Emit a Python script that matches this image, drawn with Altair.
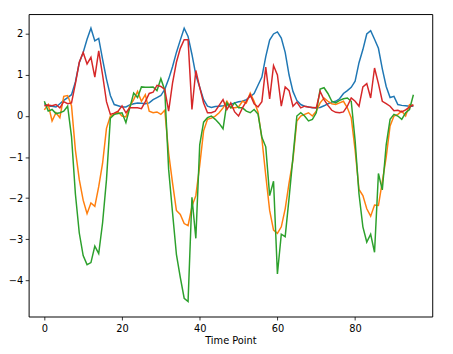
import altair as alt
import pandas as pd

time_points = list(range(96))

blue = [0.30, 0.24, 0.24, 0.22, 0.30, 0.38, 0.45, 0.52, 0.83, 1.30,
        1.55, 1.87, 2.14, 1.83, 1.89, 1.38, 0.90, 0.50, 0.28, 0.25,
        0.22, 0.22, 0.27, 0.30, 0.32, 0.31, 0.30, 0.32, 0.40, 0.45,
        0.50, 0.65, 0.90, 1.20, 1.55, 1.85, 2.14, 1.94, 1.50, 1.00,
        0.70, 0.40, 0.24, 0.21, 0.23, 0.24, 0.25, 0.27, 0.28, 0.32,
        0.35, 0.36, 0.40, 0.47, 0.55, 0.75, 0.95, 1.45, 1.85, 2.00,
        2.05, 1.90, 1.55, 1.00, 0.60, 0.38, 0.28, 0.24, 0.22, 0.20,
        0.20, 0.21, 0.25, 0.30, 0.34, 0.36, 0.42, 0.55, 0.62, 0.70,
        0.85, 1.30, 1.62, 2.00, 2.08, 1.87, 1.65, 1.15, 0.72, 0.45,
        0.48, 0.28, 0.26, 0.25, 0.24, 0.24]

orange = [0.15, 0.28, -0.12, 0.08, -0.04, 0.48, 0.50, 0.25, -0.83, -1.55,
          -2.05, -2.38, -2.12, -2.20, -1.72, -1.15, -0.30, 0.00, 0.04, 0.10,
          0.00, -0.02, 0.24, 0.40, 0.60, 0.36, 0.52, 0.12, 0.08, 0.10,
          0.04, 0.14, -0.90, -1.63, -2.30, -2.40, -2.62, -2.67, -2.20, -1.94,
          -1.20, -0.36, -0.08, -0.05, 0.00, 0.08, 0.20, 0.36, 0.20, 0.20,
          0.22, 0.36, 0.32, 0.56, 0.36, 0.10, -0.55, -1.45, -2.30, -2.78,
          -2.86, -2.70, -2.26, -1.63, -1.07, -0.12, 0.00, 0.04, 0.08, 0.00,
          0.12, 0.32, 0.44, 0.36, 0.30, 0.28, 0.32, 0.36, 0.20, -0.04,
          -0.83, -1.79, -1.94, -2.26, -2.44, -2.17, -2.18, -1.60, -1.00, -0.24,
          0.00, 0.04, 0.12, 0.00, 0.28, 0.25]

green = [0.36, 0.12, 0.16, 0.06, 0.08, 0.12, 0.24, -0.50, -1.90, -2.85,
         -3.40, -3.62, -3.57, -3.17, -3.35, -2.60, -1.55, -0.05, 0.04, 0.06,
         0.08, -0.16, 0.20, 0.56, 0.45, 0.71, 0.70, 0.70, 0.71, 0.62,
         0.91, 0.63, -1.30, -2.35, -3.37, -3.93, -4.44, -4.52, -1.98, -2.98,
         -0.70, -0.15, -0.04, 0.00, -0.08, -0.18, -0.31, 0.32, 0.20, 0.32,
         0.20, 0.20, 0.12, 0.08, 0.16, 0.05, -0.52, -0.75, -1.94, -1.59,
         -3.85, -2.88, -2.94, -2.00, -1.00, 0.00, 0.08, 0.00, -0.12, -0.08,
         0.08, 0.66, 0.69, 0.55, 0.36, 0.32, 0.38, 0.42, 0.44, 0.36,
         -0.60, -1.90, -2.70, -3.07, -2.88, -3.32, -1.40, -1.80, -0.70, -0.08,
         0.04, 0.00, -0.08, 0.08, 0.16, 0.52]

red = [0.25, 0.27, 0.25, 0.28, 0.20, 0.35, 0.30, 0.32, 0.79, 1.31,
       1.55, 1.27, 1.43, 0.95, 1.59, 1.00, 0.35, 0.04, 0.07, 0.12,
       0.25, 0.08, 0.20, 0.20, 0.20, 0.18, 0.35, 0.55, 0.58, 0.75,
       0.72, 0.65, 0.12, 0.80, 1.31, 1.65, 1.86, 1.86, 0.16, 1.11,
       0.70, 0.32, 0.08, 0.08, 0.12, 0.26, 0.40, 0.16, 0.32, 0.10,
       0.00, 0.20, 0.36, 0.52, 0.30, 0.22, 0.35, 1.19, 0.42, 1.23,
       1.00, 0.24, 0.71, 0.62, 0.24, 0.34, 0.20, 0.24, 0.22, 0.21,
       0.20, 0.60, 0.40, 0.26, 0.14, 0.09, 0.08, 0.10, 0.24, 0.44,
       0.36, 0.24, 0.71, 0.79, 0.44, 1.17, 0.79, 0.36, 0.30, 0.24,
       0.13, 0.14, 0.10, 0.15, 0.22, 0.28]

series = [("s0", blue, "#1f77b4"), ("s1", orange, "#ff7f0e"),
          ("s2", green, "#2ca02c"), ("s3", red, "#d62728")]

x_ticks = [0, 20, 40, 60, 80]
y_ticks = [-4, -3, -2, -1, 0, 1, 2]

xscale = alt.Scale(domain=[-4.04, 99.85], nice=False, zero=False)
yscale = alt.Scale(domain=[-4.885, 2.485], nice=False, zero=False)

minus = "replace(datum.label, '-', '\u2212')"
xaxis = alt.Axis(values=x_ticks, title="Time Point", grid=False, labelExpr=minus,
                 labelPadding=3.5, titlePadding=2)
yaxis = alt.Axis(values=y_ticks, title=None, grid=False, labelExpr=minus,
                 labelPadding=2.5)

layers = []
for name, vals, col in series:
    df = pd.DataFrame({"t": time_points, "v": vals})
    layers.append(
        alt.Chart(df).mark_line(color=col, strokeWidth=1.5).encode(
            x=alt.X("t:Q", scale=xscale, axis=xaxis),
            y=alt.Y("v:Q", scale=yscale, axis=yaxis),
        )
    )

chart = alt.layer(*layers).properties(
    width=411, height=308,
    autosize=alt.AutoSizeParams(type="none"),
    padding={"left": 21, "top": 3, "right": 13, "bottom": 35},
).configure_view(
    stroke="black", strokeWidth=1
).configure_axis(
    domain=False, ticks=True, tickSize=3.5, tickColor="black", tickWidth=0.8,
    labelFont="DejaVu Sans", labelFontSize=10, labelColor="black",
    titleFont="DejaVu Sans", titleFontSize=10, titleFontWeight="normal",
    titleColor="black",
)

chart.save("out.html", embed_options={"renderer": "svg", "actions": False})
